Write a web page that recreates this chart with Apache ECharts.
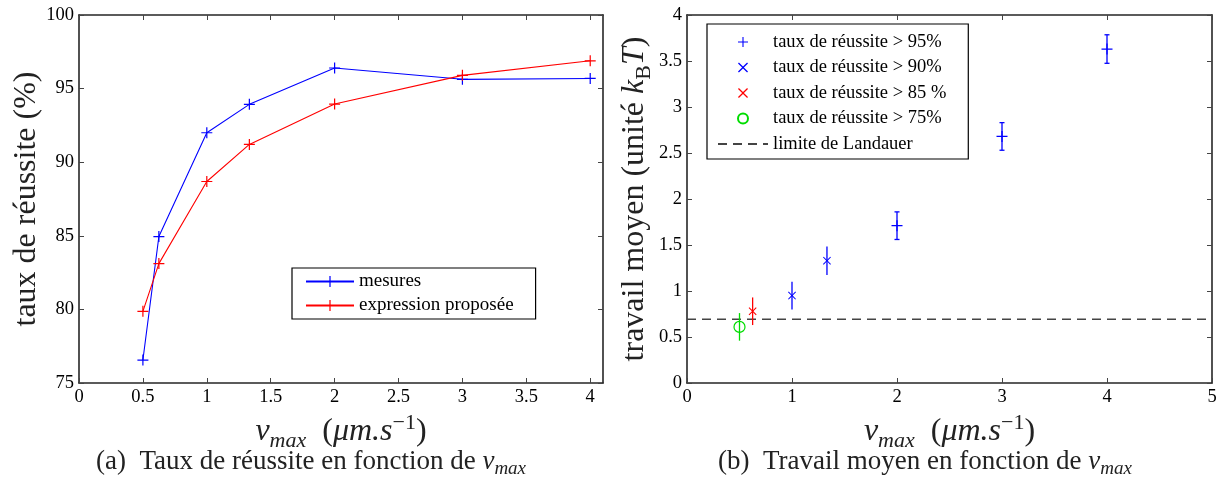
<!DOCTYPE html>
<html>
<head>
<meta charset="utf-8">
<script src="https://cdn.jsdelivr.net/npm/echarts@6/dist/echarts.min.js"></script>
<style>
html,body{margin:0;padding:0;background:#fff;}
#chart{width:1228px;height:478px;}
</style>
</head>
<body>
<div id="chart"></div>
<script>
// ---------- data (left panel) ----------
const vmax = [0.5, 0.625, 1, 1.333, 2, 3, 4];
const mesures = [76.56, 84.95, 92.0, 93.93, 96.40, 95.63, 95.69];
const proposee = [79.87, 83.11, 88.69, 91.21, 93.95, 95.90, 96.89];
const xTicksA = [0, 0.5, 1, 1.5, 2, 2.5, 3, 3.5, 4];
const yTicksA = [75, 80, 85, 90, 95, 100];

// ---------- data (right panel) ----------
const v95 = [2, 3, 4];
const w95 = [1.71, 2.68, 3.63];
const e95 = [0.15, 0.15, 0.155];
const v90 = [1, 1.333];
const w90 = [0.95, 1.33];
const e90 = [0.15, 0.155];
const v85 = [0.625];
const w85 = [0.78];
const e85 = [0.15];
const v75 = [0.5];
const w75 = [0.61];
const e75 = [0.15];
const landauerX = [0, 5];
const landauer = 0.693;
const xTicksB = [0, 1, 2, 3, 4, 5];
const yTicksB = [0, 0.5, 1, 1.5, 2, 2.5, 3, 3.5, 4];

const names = ['taux de réussite > 95%', 'taux de réussite > 90%', 'taux de réussite > 85 %', 'taux de réussite > 75%', 'limite de Landauer'];

// ---------- styling ----------
const FONT = "'Liberation Serif', 'Times New Roman', serif";
const PLUS = 'path://M0,4.45 L10,4.45 L10,5.55 L0,5.55 Z M4.45,0 L5.55,0 L5.55,10 L4.45,10 Z';
const CROSS = 'path://M0.9,0 L5,4.1 L9.1,0 L10,0.9 L5.9,5 L10,9.1 L9.1,10 L5,5.9 L0.9,10 L0,9.1 L4.1,5 L0,0.9 Z';
const BLUE = '#0000ff', RED = '#ff0000', GREEN = '#00dd00';
const AXIS_COLOR = '#262626';
const TXT = '#222';

const zip = (a, b) => a.map((v, i) => [v, b[i]]);

function axisBase(extra) {
  return Object.assign({
    type: 'value',
    axisLine: { show: true, onZero: false, lineStyle: { color: AXIS_COLOR, width: 1.6 } },
    splitLine: { show: false }
  }, extra);
}
function ticks(vals) {
  return { show: true, inside: true, length: 5, lineStyle: { color: '#444', width: 1 }, customValues: vals };
}
function labels(vals) {
  return { show: true, color: '#000', fontFamily: FONT, fontSize: 18.5, margin: 5, customValues: vals };
}

const titleRich = {
  n: { fontFamily: FONT, fontSize: 32, color: TXT, lineHeight: 40 },
  i: { fontFamily: FONT, fontSize: 32, fontStyle: 'italic', color: TXT, lineHeight: 40 },
  s: { fontFamily: FONT, fontSize: 22, fontStyle: 'italic', color: TXT, lineHeight: 18, verticalAlign: 'bottom' },
  r: { fontFamily: FONT, fontSize: 22, color: TXT, lineHeight: 18, verticalAlign: 'bottom' },
  p: { fontFamily: FONT, fontSize: 22, color: TXT, lineHeight: 18, verticalAlign: 'top' }
};
const xName = '{i|v}{s|max}{n|  (}{i|μm.s}{p|−1}{n|)}';

const capRich = {
  n: { fontFamily: FONT, fontSize: 27, fill: TXT, lineHeight: 32 },
  i: { fontFamily: FONT, fontSize: 27, fontStyle: 'italic', fill: TXT, lineHeight: 32 },
  s: { fontFamily: FONT, fontSize: 19, fontStyle: 'italic', fill: TXT, lineHeight: 12, verticalAlign: 'bottom' }
};

function errSeries(xs, ys, es, color, capHalf) {
  return {
    type: 'custom', xAxisIndex: 2, yAxisIndex: 2, z: 2, silent: true,
    data: xs.map((x, i) => [x, ys[i], es[i]]),
    renderItem: function (params, api) {
      const x = api.value(0), y = api.value(1), e = api.value(2);
      const top = api.coord([x, y + e]);
      const bot = api.coord([x, y - e]);
      const st = { stroke: color, lineWidth: 1.3 };
      const ch = [{ type: 'line', shape: { x1: top[0], y1: top[1], x2: bot[0], y2: bot[1] }, style: st }];
      if (capHalf > 0) {
        ch.push({ type: 'line', shape: { x1: top[0] - capHalf, y1: top[1], x2: top[0] + capHalf, y2: top[1] }, style: st });
        ch.push({ type: 'line', shape: { x1: bot[0] - capHalf, y1: bot[1], x2: bot[0] + capHalf, y2: bot[1] }, style: st });
      }
      return { type: 'group', children: ch };
    }
  };
}

const option = {
  animation: false,
  backgroundColor: '#fff',
  grid: [
    { left: 79, top: 15, width: 524, height: 368 },
    { left: 687, top: 15, width: 525, height: 368 }
  ],
  xAxis: [
    axisBase({ gridIndex: 0, position: 'bottom', min: 0, max: 4.1, interval: 0.5,
      axisTick: ticks(xTicksA), axisLabel: labels(xTicksA),
      name: xName, nameLocation: 'middle', nameGap: 20, nameTextStyle: { rich: titleRich } }),
    axisBase({ gridIndex: 0, position: 'top', min: 0, max: 4.1, interval: 0.5,
      axisTick: ticks(xTicksA), axisLabel: { show: false } }),
    axisBase({ gridIndex: 1, position: 'bottom', min: 0, max: 5, interval: 1,
      axisTick: ticks(xTicksB), axisLabel: labels(xTicksB),
      name: xName, nameLocation: 'middle', nameGap: 20, nameTextStyle: { rich: titleRich } }),
    axisBase({ gridIndex: 1, position: 'top', min: 0, max: 5, interval: 1,
      axisTick: ticks(xTicksB), axisLabel: { show: false } })
  ],
  yAxis: [
    axisBase({ gridIndex: 0, position: 'left', min: 75, max: 100, interval: 5,
      axisTick: ticks(yTicksA), axisLabel: labels(yTicksA),
      name: '{n|taux de réussite (%)}', nameLocation: 'middle', nameGap: 29, nameTextStyle: { rich: titleRich } }),
    axisBase({ gridIndex: 0, position: 'right', min: 75, max: 100, interval: 5,
      axisTick: ticks(yTicksA), axisLabel: { show: false } }),
    axisBase({ gridIndex: 1, position: 'left', min: 0, max: 4, interval: 0.5,
      axisTick: ticks(yTicksB), axisLabel: labels(yTicksB),
      name: '{n|travail moyen (unité }{i|k}{r|B}{i|T}{n|)}', nameLocation: 'middle', nameGap: 26, nameTextStyle: { rich: titleRich } }),
    axisBase({ gridIndex: 1, position: 'right', min: 0, max: 4, interval: 0.5,
      axisTick: ticks(yTicksB), axisLabel: { show: false } })
  ],
  legend: [
    {
      data: ['mesures', 'expression proposée'],
      orient: 'vertical', left: 292, top: 268,
      padding: [4, 22, 4, 13], itemGap: 5, itemWidth: 48, itemHeight: 14,
      borderColor: '#000', borderWidth: 1.2, borderRadius: 0, backgroundColor: '#fff',
      textStyle: { fontFamily: FONT, fontSize: 19, color: '#000', lineHeight: 19 },
      selectedMode: false
    },
    {
      data: names,
      orient: 'vertical', left: 707, top: 24,
      padding: [8, 22, 5, 10], itemGap: 5.5, itemWidth: 50, itemHeight: 10,
      borderColor: '#000', borderWidth: 1.2, borderRadius: 0, backgroundColor: '#fff',
      textStyle: { fontFamily: FONT, fontSize: 18.5, color: '#000', lineHeight: 20 },
      selectedMode: false
    }
  ],
  graphic: [
    {
      type: 'text', x: 311, y: 462,
      style: { text: '{n|(a)  Taux de réussite en fonction de }{i|v}{s|max}', align: 'center', verticalAlign: 'middle', rich: capRich }
    },
    {
      type: 'text', x: 925, y: 462,
      style: { text: '{n|(b)  Travail moyen en fonction de }{i|v}{s|max}', align: 'center', verticalAlign: 'middle', rich: capRich }
    }
  ],
  series: [
    {
      name: 'mesures', type: 'line', xAxisIndex: 0, yAxisIndex: 0,
      data: zip(vmax, mesures), symbol: PLUS, symbolSize: 11, showSymbol: true,
      lineStyle: { color: BLUE, width: 1.1 }, itemStyle: { color: BLUE }, z: 3
    },
    {
      name: 'expression proposée', type: 'line', xAxisIndex: 0, yAxisIndex: 0,
      data: zip(vmax, proposee), symbol: PLUS, symbolSize: 11, showSymbol: true,
      lineStyle: { color: RED, width: 1.1 }, itemStyle: { color: RED }, z: 3
    },
    {
      name: names[4], type: 'line', xAxisIndex: 2, yAxisIndex: 2,
      data: landauerX.map(x => [x, landauer]), symbol: 'circle', symbolSize: 0, showSymbol: false,
      lineStyle: { color: '#444', width: 1.3, type: [9, 6] },
      itemStyle: { color: 'rgba(0,0,0,0)', borderWidth: 0 }, z: 1
    },
    errSeries(v95, w95, e95, BLUE, 2.5),
    errSeries(v90, w90, e90, BLUE, 0),
    errSeries(v85, w85, e85, RED, 0),
    errSeries(v75, w75, e75, GREEN, 0),
    {
      name: names[0], type: 'scatter', xAxisIndex: 2, yAxisIndex: 2,
      data: zip(v95, w95), symbol: PLUS, symbolSize: 11, itemStyle: { color: BLUE, opacity: 1 }, z: 3
    },
    {
      name: names[1], type: 'scatter', xAxisIndex: 2, yAxisIndex: 2,
      data: zip(v90, w90), symbol: CROSS, symbolSize: 8, itemStyle: { color: BLUE, opacity: 1 }, z: 3
    },
    {
      name: names[2], type: 'scatter', xAxisIndex: 2, yAxisIndex: 2,
      data: zip(v85, w85), symbol: CROSS, symbolSize: 8, itemStyle: { color: RED, opacity: 1 }, z: 3
    },
    {
      name: names[3], type: 'scatter', xAxisIndex: 2, yAxisIndex: 2,
      data: zip(v75, w75), symbol: 'circle', symbolSize: 11,
      itemStyle: { color: 'rgba(255,255,255,0)', borderColor: GREEN, borderWidth: 1.2, opacity: 1 }, z: 3
    }
  ]
};

const chart = echarts.init(document.getElementById('chart'), null, { renderer: 'canvas' });
chart.setOption(option);
</script>
</body>
</html>
